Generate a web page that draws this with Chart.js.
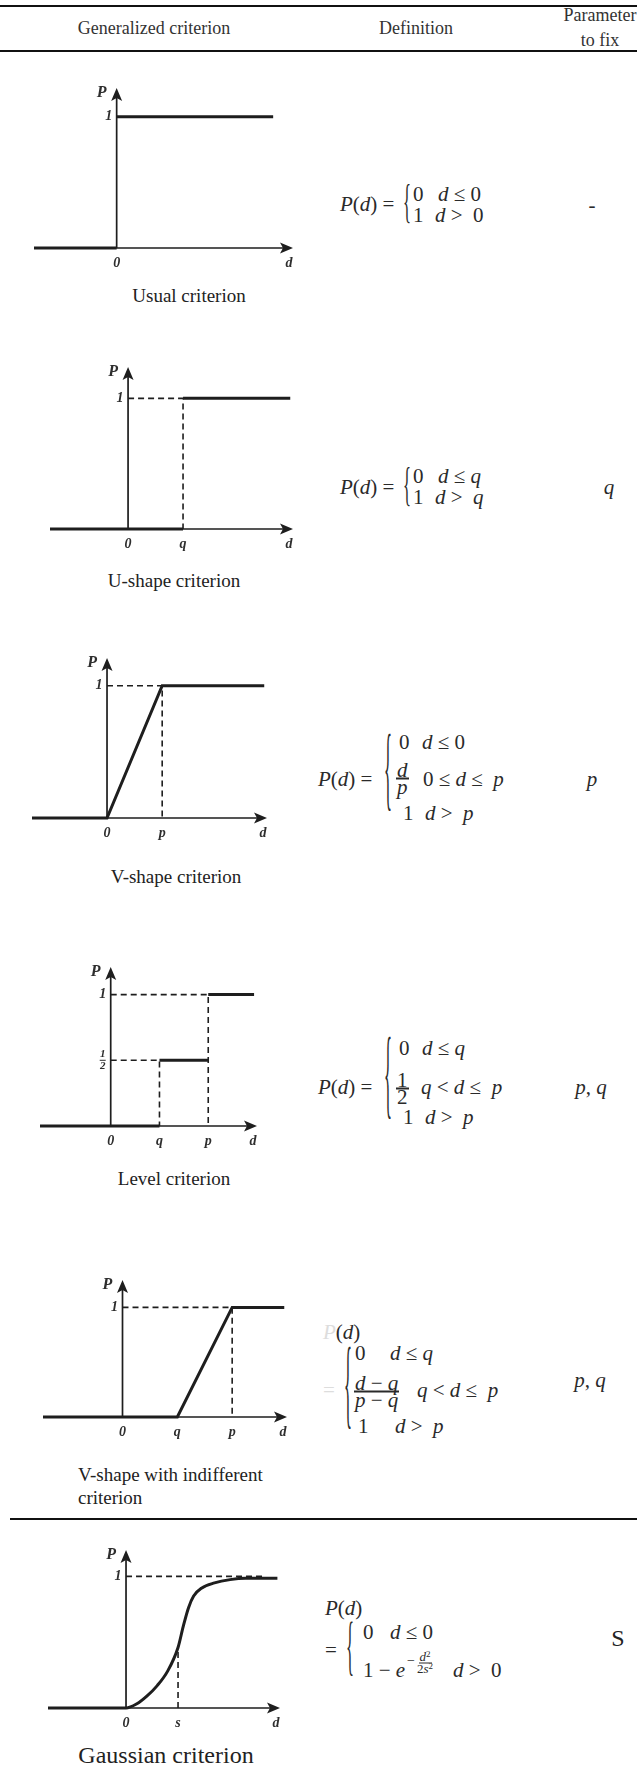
<!DOCTYPE html>
<html>
<head>
<meta charset="utf-8">
<script src="https://cdn.jsdelivr.net/npm/chart.js@4.4.0/dist/chart.umd.min.js"></script>
<style>
body { margin: 0; width: 637px; height: 1768px; position: relative; background: #fff; overflow: hidden;
       font-family: 'Liberation Serif', 'Times New Roman', serif; color: #222; }
.rule { position: absolute; height: 2px; background: #111; }
.txt { position: absolute; white-space: nowrap; line-height: 1; }
.hd { font-size: 18px; color: #333; }
.cap { font-size: 19px; color: #222; }
.big { font-size: 24px; color: #222; }
.m { font-size: 21px; color: #2a2a2a; }
.sm { font-size: 14px; color: #2a2a2a; }
.frac { display: inline-flex; flex-direction: column; align-items: center; line-height: 15px; }
.frac > span:first-child { border-bottom: 2px solid #2a2a2a; padding: 0 1px; }
.frac.small { line-height: 10px; font-size: 13px; }
.frac.small > span:first-child { border-bottom-width: 1px; }
.up { position: relative; top: -4px; font-size: 9px; }
.brace { position: absolute; line-height: 1; transform-origin: left center; color: #2a2a2a; }
canvas { position: absolute; left: 0; }
</style>
</head>
<body>
<script>
// ── Data ─────────────────────────────────────────────
// Usual criterion
const usualD = [-1.5, 0, 0, 0, 2.84];
const usualP = [0, 0, null, 1, 1];

// U-shape criterion
const uShapeD = [-1.42, 1, 1, 1, 2.95];
const uShapeP = [0, 0, null, 1, 1];
const uGuideD = [0, 1, 1];
const uGuideP = [1, 1, 0];

// V-shape criterion
const vShapeD = [-1.36, 0, 1, 2.85];
const vShapeP = [0, 0, 1, 1];
const vGuideD = [0, 1, 1];
const vGuideP = [1, 1, 0];

// Level criterion
const levelD = [-1.45, 1, 1, 1, 2, 2, 2, 2.94];
const levelP = [0, 0, null, 0.5, 0.5, null, 1, 1];
const levelGuideD = [0, 2, 2, 2, 0, 1, 1];
const levelGuideP = [1, 1, 0, null, 0.5, 0.5, 0];

// V-shape with indifferent criterion
const vIndD = [-1.45, 1, 2, 2.95];
const vIndP = [0, 0, 1, 1];
const vIndGuideD = [0, 2, 2];
const vIndGuideP = [1, 1, 0];

// Gaussian criterion
const gaussD = [-1.5, 0, 0.2, 0.4, 0.6, 0.8, 1.0, 1.1, 1.2, 1.3, 1.45, 1.7, 2.0, 2.3, 2.91];
const gaussP = [0, 0, 0.03, 0.09, 0.17, 0.28, 0.46, 0.62, 0.76, 0.85, 0.91, 0.95, 0.975, 0.985, 0.985];
const gaussGuideD = [0, 2.63, 2.63, 1, 1];
const gaussGuideP = [1, 1, null, 0, 0.46];

// tick labels
const ticksX0 = [0],        labelsX0 = ['0'];
const ticksXq = [0, 1],     labelsXq = ['0', 'q'];
const ticksXp = [0, 1],     labelsXp = ['0', 'p'];
const ticksXqp = [0, 1, 2], labelsXqp = ['0', 'q', 'p'];
const ticksXs = [0, 1],     labelsXs = ['0', 's'];
const ticksY1 = [1],        labelsY1 = ['1'];
const ticksYLevel = [0.5, 1], labelsYLevel = ['1/2', '1'];

const INK = '#1e1e1e';
const LABEL = '#2e2e2e';

// ── Helpers ──────────────────────────────────────────
function put(html, x, y, cls, center, style) {
    const el = document.createElement('div');
    el.className = 'txt ' + (cls || '');
    el.innerHTML = html;
    el.style.left = x + 'px';
    el.style.top = y + 'px';
    el.style.transform = center ? 'translate(-50%,-50%)' : 'translateY(-50%)';
    if (style) el.style.cssText += style;
    document.body.appendChild(el);
}

function rule(x, y, w) {
    const el = document.createElement('div');
    el.className = 'rule';
    el.style.left = x + 'px';
    el.style.top = y + 'px';
    el.style.width = w + 'px';
    document.body.appendChild(el);
}

function brace(x, top, bottom) {
    const h = bottom - top;
    const fs = Math.round(h * 0.8);
    const el = document.createElement('div');
    el.className = 'brace';
    el.textContent = '{';
    el.style.left = x + 'px';
    el.style.top = ((top + bottom) / 2 - 0.09 * h) + 'px';
    el.style.fontSize = fs + 'px';
    const sx = 8 / (0.48 * fs), sy = h / (0.85 * fs);
    el.style.transform = `translateY(-50%) scale(${sx.toFixed(3)}, ${sy.toFixed(3)})`;
    document.body.appendChild(el);
}

const pts = (d, p) => d.map((v, i) => ({ x: v, y: p[i] }));

// ── Axis + arrow plugin ─────────────────────────────
const arrowAxes = {
    id: 'arrowAxes',
    beforeDatasetsDraw(chart, args, o) {
        const { ctx } = chart;
        const xs = chart.scales.x, ys = chart.scales.y;
        const x0 = xs.getPixelForValue(0), y0 = ys.getPixelForValue(0);
        const right = xs.right, top = ys.top;
        ctx.save();
        ctx.strokeStyle = INK;
        ctx.fillStyle = INK;
        ctx.lineWidth = 1.7;
        ctx.beginPath();
        ctx.moveTo(xs.left, y0); ctx.lineTo(right - 8, y0);
        ctx.moveTo(x0, y0); ctx.lineTo(x0, top + 8);
        ctx.stroke();

        ctx.beginPath();
        ctx.moveTo(right, y0); ctx.lineTo(right - 13, y0 - 5.5);
        ctx.lineTo(right - 10, y0); ctx.lineTo(right - 13, y0 + 5.5);
        ctx.closePath(); ctx.fill();
        ctx.beginPath();
        ctx.moveTo(x0, top); ctx.lineTo(x0 - 5.5, top + 13);
        ctx.lineTo(x0, top + 10); ctx.lineTo(x0 + 5.5, top + 13);
        ctx.closePath(); ctx.fill();

        ctx.fillStyle = LABEL;
        ctx.textBaseline = 'middle';
        ctx.textAlign = 'center';
        ctx.font = 'italic bold 16px "Liberation Serif"';
        ctx.fillText('P', x0 - 15, top + 5);
        ctx.font = 'italic bold 14px "Liberation Serif"';
        ctx.fillText('d', right - 4, y0 + 15);
        o.xTicks.forEach((v, i) => ctx.fillText(o.xLabels[i], xs.getPixelForValue(v), y0 + 15));

        o.yTicks.forEach((v, i) => {
            const py = ys.getPixelForValue(v);
            const lab = o.yLabels[i];
            if (lab.includes('/')) {
                const [n, dd] = lab.split('/');
                ctx.font = 'italic bold 11px "Liberation Serif"';
                ctx.fillText(n, x0 - 8, py - 6);
                ctx.fillText(dd, x0 - 8, py + 6);
                ctx.fillRect(x0 - 11, py - 0.5, 6, 1);
                ctx.font = 'italic bold 14px "Liberation Serif"';
            } else {
                ctx.fillText(lab, x0 - 8, py);
            }
        });
        ctx.restore();
    }
};

function buildChart(cfg) {
    const f = cfg.frame;
    const W = 300, padT = 30, padB = 30;
    const canvas = document.createElement('canvas');
    canvas.width = W;
    canvas.height = f.b - f.t + padT + padB;
    canvas.style.top = (f.t - padT) + 'px';
    document.body.appendChild(canvas);

    const datasets = [{
        data: pts(cfg.d, cfg.p),
        borderColor: INK,
        borderWidth: 3,
        pointRadius: 0,
        tension: 0,
        cubicInterpolationMode: cfg.smooth ? 'monotone' : 'default',
        spanGaps: false,
        clip: false,
    }];
    if (cfg.gd) {
        datasets.push({
            data: pts(cfg.gd, cfg.gp),
            borderColor: INK,
            borderWidth: 1.6,
            borderDash: [6, 4],
            pointRadius: 0,
            spanGaps: false,
            clip: false,
        });
    }

    new Chart(canvas, {
        type: 'line',
        data: { datasets },
        options: {
            responsive: false,
            animation: false,
            events: [],
            layout: { padding: { left: f.l, right: W - f.r, top: padT, bottom: padB } },
            plugins: {
                legend: { display: false },
                tooltip: { enabled: false },
                arrowAxes: { xTicks: cfg.xt, xLabels: cfg.xl, yTicks: cfg.yt, yLabels: cfg.yl },
            },
            scales: {
                x: { type: 'linear', display: false, min: cfg.xMin, max: cfg.xMax },
                y: { type: 'linear', display: false, min: 0, max: cfg.yMax },
            }
        },
        plugins: [arrowAxes]
    });
}

// ── Table frame + header ────────────────────────────
rule(0, 5, 637);
rule(0, 50, 637);
rule(10, 1518, 627);
put('Generalized criterion', 154, 28, 'hd', true);
put('Definition', 416, 28, 'hd', true);
put('Parameter', 600, 15, 'hd', true);
put('to fix', 600, 40, 'hd', true);

// ── Charts ──────────────────────────────────────────
buildChart({ frame: { l: 34, r: 293, t: 88, b: 248 }, xMin: -1.5, xMax: 3.2, yMax: 1.22,
    d: usualD, p: usualP, xt: ticksX0, xl: labelsX0, yt: ticksY1, yl: labelsY1 });
buildChart({ frame: { l: 50, r: 293, t: 367, b: 529 }, xMin: -1.42, xMax: 3.0, yMax: 1.24,
    d: uShapeD, p: uShapeP, gd: uGuideD, gp: uGuideP, xt: ticksXq, xl: labelsXq, yt: ticksY1, yl: labelsY1 });
buildChart({ frame: { l: 32, r: 267, t: 658, b: 818 }, xMin: -1.36, xMax: 2.9, yMax: 1.21,
    d: vShapeD, p: vShapeP, gd: vGuideD, gp: vGuideP, xt: ticksXp, xl: labelsXp, yt: ticksY1, yl: labelsY1 });
buildChart({ frame: { l: 40, r: 257, t: 967, b: 1126 }, xMin: -1.45, xMax: 3.0, yMax: 1.21,
    d: levelD, p: levelP, gd: levelGuideD, gp: levelGuideP, xt: ticksXqp, xl: labelsXqp, yt: ticksYLevel, yl: labelsYLevel });
buildChart({ frame: { l: 43, r: 287, t: 1280, b: 1417 }, xMin: -1.45, xMax: 3.0, yMax: 1.25,
    d: vIndD, p: vIndP, gd: vIndGuideD, gp: vIndGuideP, xt: ticksXqp, xl: labelsXqp, yt: ticksY1, yl: labelsY1 });
buildChart({ frame: { l: 48, r: 280, t: 1550, b: 1708 }, xMin: -1.5, xMax: 2.96, yMax: 1.2, smooth: true,
    d: gaussD, p: gaussP, gd: gaussGuideD, gp: gaussGuideP, xt: ticksXs, xl: labelsXs, yt: ticksY1, yl: labelsY1 });

// ── Captions ────────────────────────────────────────
put('Usual criterion', 189, 295, 'cap', true);
put('U-shape criterion', 174, 580, 'cap', true);
put('V-shape criterion', 176, 876, 'cap', true);
put('Level criterion', 174, 1178, 'cap', true);
put('V-shape with indifferent', 78, 1474, 'cap');
put('criterion', 78, 1497, 'cap');
put('Gaussian criterion', 166, 1755, 'big', true);

// ── Definitions ─────────────────────────────────────
// Usual
put('<i>P</i>(<i>d</i>) =', 340, 204, 'm');
brace(403, 185, 224);
put('0', 413, 194, 'm'); put('<i>d</i> ≤ 0', 438, 194, 'm');
put('1', 413, 215, 'm'); put('<i>d</i> &gt; &nbsp;0', 435, 215, 'm');
put('-', 592, 205, 'm', true);

// U-shape
put('<i>P</i>(<i>d</i>) =', 340, 487, 'm');
brace(403, 468, 507);
put('0', 413, 476, 'm'); put('<i>d</i> ≤ <i>q</i>', 438, 476, 'm');
put('1', 413, 497, 'm'); put('<i>d</i> &gt; &nbsp;<i>q</i>', 435, 497, 'm');
put('<i>q</i>', 609, 487, 'm', true);

// V-shape
put('<i>P</i>(<i>d</i>) =', 318, 779, 'm');
brace(384, 735, 815);
put('0', 399, 742, 'm'); put('<i>d</i> ≤ 0', 422, 742, 'm');
put('<span class="frac"><span><i>d</i></span><span><i>p</i></span></span>', 396, 777, 'm');
put('0 ≤ <i>d</i> ≤ &nbsp;<i>p</i>', 423, 779, 'm');
put('1', 403, 813, 'm'); put('<i>d</i> &gt; &nbsp;<i>p</i>', 425, 813, 'm');
put('<i>p</i>', 592, 779, 'm', true);

// Level
put('<i>P</i>(<i>d</i>) =', 318, 1087, 'm');
brace(384, 1039, 1123);
put('0', 399, 1048, 'm'); put('<i>d</i> ≤ <i>q</i>', 422, 1048, 'm');
put('<span class="frac"><span>1</span><span>2</span></span>', 396, 1087, 'm');
put('<i>q</i> &lt; <i>d</i> ≤ &nbsp;<i>p</i>', 421, 1087, 'm');
put('1', 403, 1117, 'm'); put('<i>d</i> &gt; &nbsp;<i>p</i>', 425, 1117, 'm');
put('<i>p</i>, <i>q</i>', 591, 1087, 'm', true);

// V-shape with indifferent
put('<i style="color:#ddd">P</i>(<i>d</i>)', 323, 1332, 'm');
put('<span style="color:#ddd">=</span>', 323, 1390, 'm');
brace(344, 1347, 1432);
put('0', 355, 1353, 'm'); put('<i>d</i> ≤ <i>q</i>', 390, 1353, 'm');
put('<span class="frac"><span><i>d</i> − <i>q</i></span><span><i>p</i> − <i>q</i></span></span>', 354, 1390, 'm');
put('<i>q</i> &lt; <i>d</i> ≤ &nbsp;<i>p</i>', 417, 1390, 'm');
put('1', 358, 1426, 'm'); put('<i>d</i> &gt; &nbsp;<i>p</i>', 395, 1426, 'm');
put('<i>p</i>, <i>q</i>', 590, 1380, 'm', true);

// Gaussian
put('<i>P</i>(<i>d</i>)', 325, 1608, 'm');
put('=', 325, 1650, 'm');
brace(346, 1623, 1678);
put('0', 363, 1632, 'm'); put('<i>d</i> ≤ 0', 390, 1632, 'm');
put('1 − <i>e</i>', 363, 1670, 'm');
put('−', 407, 1661, 'sm');
put('<span class="frac small"><span><i>d</i><span class="up">2</span></span><span>2<i>s</i><span class="up">2</span></span></span>', 417, 1662, 'sm');
put('<i>d</i> &gt; &nbsp;0', 453, 1670, 'm');
put('S', 618, 1638, 'big', true);
</script>
</body>
</html>
